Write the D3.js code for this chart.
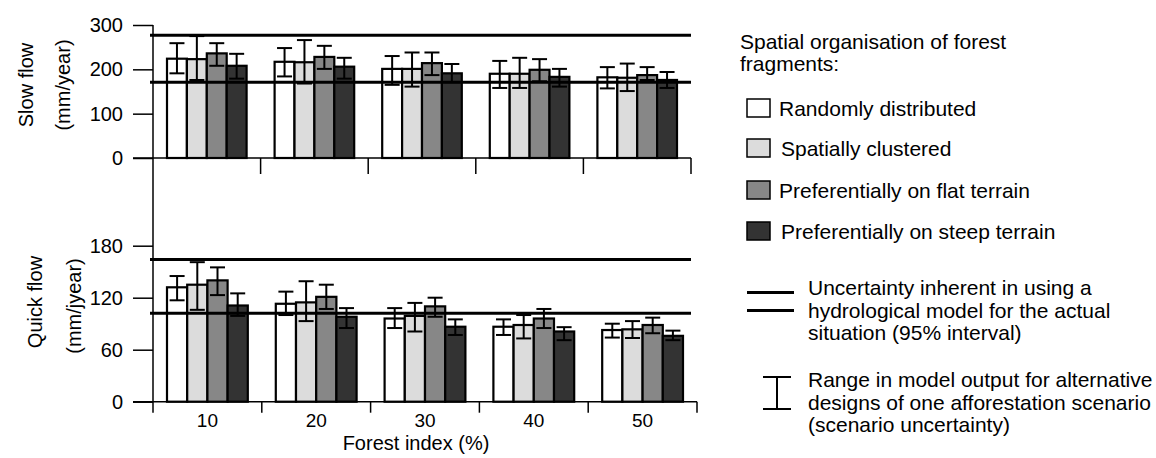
<!DOCTYPE html>
<html>
<head>
<meta charset="utf-8">
<script src="https://cdn.jsdelivr.net/npm/d3@7"></script>
<style>
  html, body { margin: 0; padding: 0; background: #fff; }
  svg text { font-family: "Liberation Sans", Arial, Helvetica, sans-serif; fill: #000; }
</style>
</head>
<body>
<svg id="chart" width="1156" height="458"></svg>
<script>
// ---------- data ----------
const categories = ["10", "20", "30", "40", "50"];
const series = ["Randomly distributed", "Spatially clustered", "Preferentially on flat terrain", "Preferentially on steep terrain"];
const seriesColors = ["#ffffff", "#dcdcdc", "#878787", "#333333"];

// Slow flow (mm/year): rows = series, columns = categories
const slowMean = [
  [224, 217, 201, 190, 182],
  [223, 216, 201, 190, 181],
  [236, 228, 214, 199, 187],
  [208, 206, 191, 183, 176]
];
const slowLow = [
  [191, 184, 165, 158, 157],
  [176, 168, 161, 158, 151],
  [208, 201, 187, 173, 176],
  [179, 179, 171, 161, 158]
];
const slowHigh = [
  [259, 248, 230, 219, 205],
  [275, 266, 238, 226, 213],
  [259, 253, 238, 223, 205],
  [235, 226, 212, 201, 194]
];
const slowModelBand = [171, 277];
const slowTicks = [0, 100, 200, 300];

// Quick flow (mm/year)
const quickMean = [
  [132, 113, 96, 86.5, 82.7],
  [135, 114.6, 99, 88.5, 83.5],
  [140, 121, 110, 96, 88.5],
  [111, 98, 86.5, 81, 76]
];
const quickLow = [
  [117, 100, 85, 77, 74],
  [106, 93, 81, 73, 73.5],
  [123, 107, 98, 85, 79],
  [99, 85, 77, 71, 71]
];
const quickHigh = [
  [145, 127, 108, 95, 90],
  [161, 139, 114, 100, 93],
  [155, 135, 120, 107, 97],
  [125, 108, 95, 86, 82]
];
const quickModelBand = [102, 164];
const quickTicks = [0, 60, 120, 180];

// ---------- drawing ----------
const svg = d3.select("#chart");
const axisX = 153;
const FONT = '"Liberation Sans", Arial, Helvetica, sans-serif';

function panel(opts) {
  const g = svg.append("g");
  const y = d3.scaleLinear().domain(opts.domain).range(opts.yRange);
  const x0 = d3.scaleBand().domain(categories).range(opts.xRange).padding(0);
  const pad = 14;
  const x1 = d3.scaleBand().domain(d3.range(series.length)).range([pad, x0.bandwidth() - pad]).padding(0);

  // baseline
  g.append("line")
    .attr("x1", axisX - 20).attr("x2", opts.xRange[1])
    .attr("y1", y(0)).attr("y2", y(0))
    .attr("stroke", "#000").attr("stroke-width", 1.5);

  // y axis ticks + labels
  const yAxis = d3.axisLeft(y).tickValues(opts.ticks).tickSize(20).tickPadding(10).tickSizeOuter(0);
  const ya = g.append("g").attr("transform", `translate(${axisX},0)`).call(yAxis);
  ya.select(".domain").remove();
  ya.selectAll(".tick line").attr("stroke", "#000").attr("stroke-width", 1.5);
  ya.selectAll(".tick text").attr("font-size", 20).attr("fill", "#000").attr("font-family", FONT);

  // category boundary ticks
  const bounds = categories.map(c => x0(c)).concat([opts.xRange[1]]);
  g.selectAll(".btick").data(bounds.slice(1)).enter().append("line")
    .attr("x1", d => d).attr("x2", d => d)
    .attr("y1", y(0)).attr("y2", y(0) + opts.tickDown)
    .attr("stroke", "#000").attr("stroke-width", 1.5);

  // bars
  const groups = g.selectAll(".grp").data(categories).enter().append("g")
    .attr("transform", c => `translate(${x0(c)},0)`);
  groups.each(function(c, ci) {
    const gg = d3.select(this);
    series.forEach((s, si) => {
      const v = opts.mean[si][ci];
      gg.append("rect")
        .attr("x", x1(si)).attr("width", x1.bandwidth())
        .attr("y", y(v)).attr("height", y(0) - y(v))
        .attr("fill", seriesColors[si]).attr("stroke", "#000").attr("stroke-width", 2.2);
    });
    series.forEach((s, si) => {
      const cx = x1(si) + x1.bandwidth() / 2;
      const lo = y(opts.low[si][ci]), hi = y(opts.high[si][ci]);
      const capW = 7.5;
      gg.append("line").attr("x1", cx).attr("x2", cx).attr("y1", lo).attr("y2", hi)
        .attr("stroke", "#000").attr("stroke-width", 2);
      gg.append("line").attr("x1", cx - capW).attr("x2", cx + capW).attr("y1", lo).attr("y2", lo)
        .attr("stroke", "#000").attr("stroke-width", 2);
      gg.append("line").attr("x1", cx - capW).attr("x2", cx + capW).attr("y1", hi).attr("y2", hi)
        .attr("stroke", "#000").attr("stroke-width", 2);
    });
  });

  // model uncertainty lines
  g.selectAll(".ref").data(opts.band).enter().append("line")
    .attr("x1", axisX - 3).attr("x2", 691)
    .attr("y1", d => y(d)).attr("y2", d => y(d))
    .attr("stroke", "#000").attr("stroke-width", 3);

  // y titles
  opts.titles.forEach(t => {
    g.append("text")
      .attr("transform", `translate(${t.x},${t.y}) rotate(-90)`)
      .attr("text-anchor", "middle").attr("font-size", 20).text(t.text);
  });

  return { x0, y };
}

const slowPanel = panel({
  domain: [0, 300], yRange: [158, 25], xRange: [axisX, 691], tickDown: 16,
  ticks: slowTicks, mean: slowMean, low: slowLow, high: slowHigh, band: slowModelBand,
  titles: [{ x: 33, y: 85, text: "Slow flow" }, { x: 70, y: 85, text: "(mm/year)" }]
});

const quickPanel = panel({
  domain: [0, 180], yRange: [401.7, 245.7], xRange: [axisX, 697], tickDown: 11,
  ticks: quickTicks, mean: quickMean, low: quickLow, high: quickHigh, band: quickModelBand,
  titles: [{ x: 42, y: 302, text: "Quick flow" }, { x: 81, y: 306, text: "(mm/jyear)" }]
});

// continuous vertical axis
svg.append("line").attr("x1", axisX).attr("x2", axisX)
  .attr("y1", slowPanel.y(300)).attr("y2", quickPanel.y(0) + 11)
  .attr("stroke", "#000").attr("stroke-width", 1.5);

// x labels
const xLab = d3.axisBottom(quickPanel.x0).tickSize(0).tickPadding(0);
const xa = svg.append("g").attr("transform", "translate(0,427)").call(xLab);
xa.select(".domain").remove();
xa.selectAll(".tick text").attr("font-size", 19).attr("fill", "#000").attr("y", 0).attr("dy", 0)
  .attr("font-family", FONT);

svg.append("text").attr("x", 416).attr("y", 450).attr("text-anchor", "middle")
  .attr("font-size", 20).text("Forest index (%)");

// ---------- legend ----------
const lg = svg.append("g");
lg.append("text").attr("x", 740).attr("y", 49).attr("font-size", 21).text("Spatial organisation of forest");
lg.append("text").attr("x", 740).attr("y", 71).attr("font-size", 21).text("fragments:");

const legY = [99, 139, 181, 222];
const legTextX = [779, 781, 779, 781];
series.forEach((s, i) => {
  lg.append("rect").attr("x", 747).attr("y", legY[i]).attr("width", 23).attr("height", 18)
    .attr("fill", seriesColors[i]).attr("stroke", "#000").attr("stroke-width", 1.5);
  lg.append("text").attr("x", legTextX[i]).attr("y", legY[i] + 17).attr("font-size", 21).text(s);
});

// model line legend
[292.5, 310.5].forEach(yy => {
  lg.append("line").attr("x1", 747).attr("x2", 794).attr("y1", yy).attr("y2", yy)
    .attr("stroke", "#000").attr("stroke-width", 3);
});
["Uncertainty inherent in using a", "hydrological model for the actual", "situation (95% interval)"].forEach((t, i) => {
  lg.append("text").attr("x", 808).attr("y", 295 + i * 22.5).attr("font-size", 21).text(t);
});

// error bar legend
lg.append("line").attr("x1", 777).attr("x2", 777).attr("y1", 377).attr("y2", 409).attr("stroke", "#000").attr("stroke-width", 2);
lg.append("line").attr("x1", 763).attr("x2", 791).attr("y1", 377).attr("y2", 377).attr("stroke", "#000").attr("stroke-width", 2);
lg.append("line").attr("x1", 763).attr("x2", 791).attr("y1", 409).attr("y2", 409).attr("stroke", "#000").attr("stroke-width", 2);
["Range in model output for alternative", "designs of one afforestation scenario", "(scenario uncertainty)"].forEach((t, i) => {
  lg.append("text").attr("x", 808).attr("y", 387 + i * 22.5).attr("font-size", 21).text(t);
});
</script>
</body>
</html>
